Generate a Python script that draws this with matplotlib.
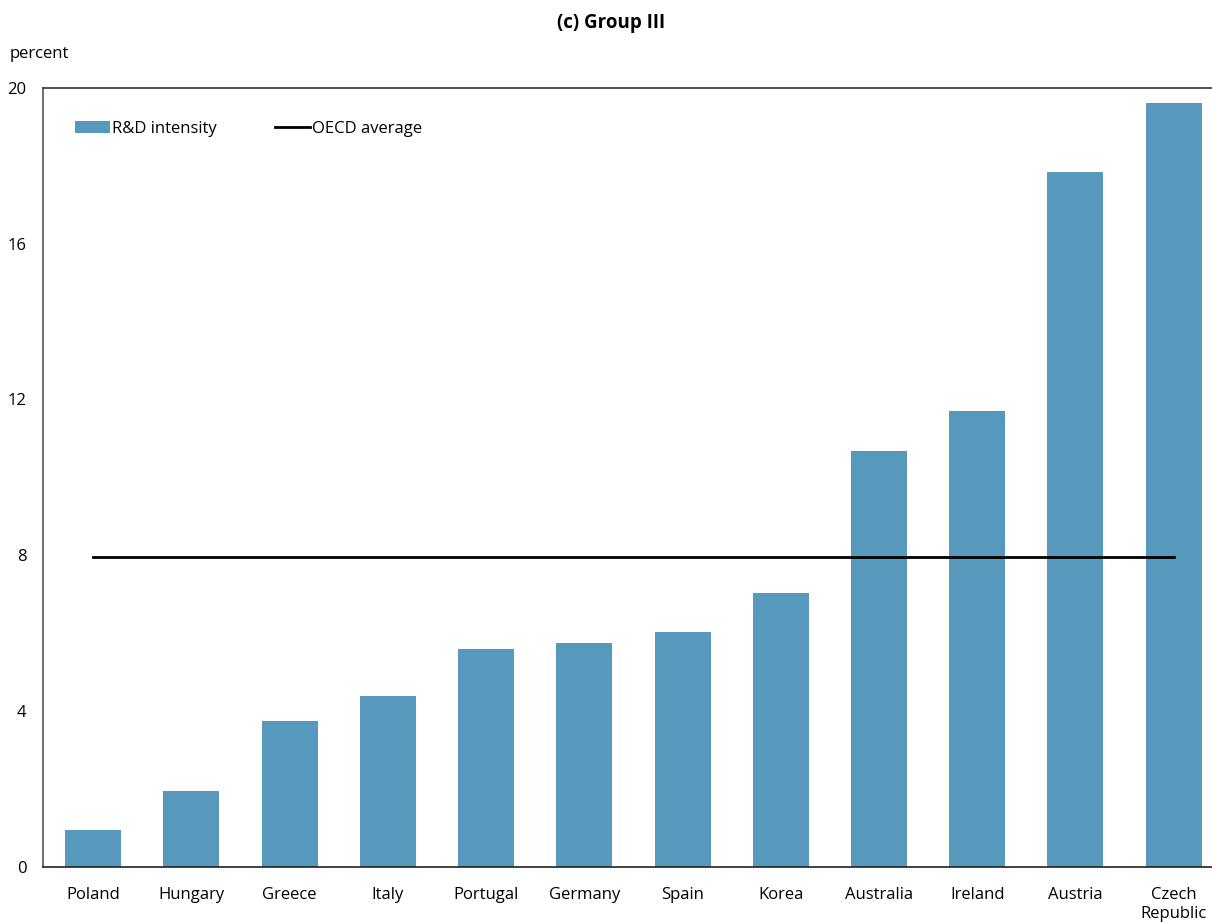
import matplotlib
matplotlib.use("Agg")
import matplotlib.pyplot as plt
from matplotlib.lines import Line2D
from matplotlib.patches import Patch

countries = ["Poland", "Hungary", "Greece", "Italy", "Portugal", "Germany",
             "Spain", "Korea", "Australia", "Ireland", "Austria", "Czech\nRepublic"]
rd_intensity = [0.95, 1.95, 3.73, 4.37, 5.58, 5.73, 6.02, 7.02, 10.67, 11.70, 17.84, 19.61]
oecd_average = 7.94
yticks = [0, 4, 8, 12, 16, 20]

plt.rcParams['font.family'] = ['Open Sans', 'DejaVu Sans']
FS = 12

fig = plt.figure(figsize=(12.12, 9.22), dpi=100)
ax = fig.add_axes([43/1212, 1-866.5/922, 1-43/1212, (866.5-88)/922])

x = list(range(len(countries)))
bar_color = "#5699bd"
ax.bar(x, rd_intensity, width=0.57, color=bar_color, zorder=2)
ax.plot([x[0], x[-1]], [oecd_average, oecd_average], color="black", lw=2.0, zorder=3)

ax.set_xlim(-0.51, 11.39)
ax.set_ylim(0, 20)
ax.set_yticks(yticks)
ax.set_yticklabels([str(t) for t in yticks], fontsize=FS)
ax.set_xticks(x)
ax.set_xticklabels(countries, fontsize=FS, linespacing=1.2)
ax.tick_params(axis='both', length=0)
ax.tick_params(axis='y', pad=12)
ax.tick_params(axis='x', pad=15)
for lab in ax.get_xticklabels():
    lab.set_verticalalignment('top')

ax.spines['right'].set_visible(False)
ax.spines['left'].set_color("#555555")
ax.spines['top'].set_color("#333333")
ax.spines['bottom'].set_color("#222222")
for s in ax.spines.values():
    s.set_linewidth(1.2)

handles = [Patch(facecolor=bar_color, edgecolor='none'),
           Line2D([0], [0], color='black', lw=2.0)]
ax.legend(handles, ["R&D intensity", "OECD average"], loc='upper left',
          bbox_to_anchor=(0.0215, 0.966), ncol=2, frameon=False, fontsize=FS,
          handlelength=2.1, handleheight=0.75, handletextpad=0.15, columnspacing=3.45,
          borderaxespad=0)

fig.text(10/1212, 1-54/922, "percent", fontsize=FS, ha='left', va='center')
fig.text(611/1212, 1-23/922, "(c) Group III", fontsize=13.5, fontweight='bold',
         ha='center', va='center')

fig.savefig("out.png", dpi=100)
